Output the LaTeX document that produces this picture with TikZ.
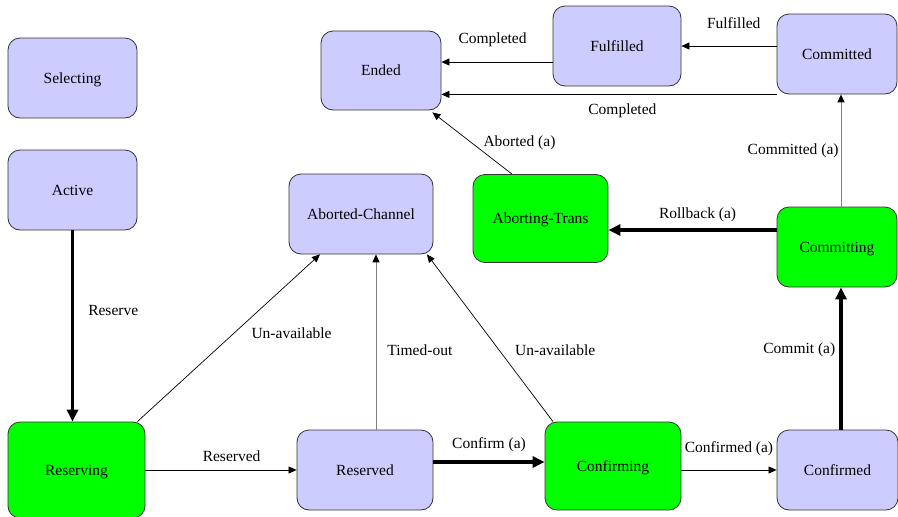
\documentclass[tikz,border=0pt]{standalone}
\usepackage{fontspec}
\setmainfont{Liberation Serif}
\usetikzlibrary{shapes,arrows.meta}

\begin{document}
\begin{tikzpicture}[x=1pt,y=-1pt,font=\fontsize{15.5}{18}\selectfont]
\tikzstyle{state}=[rectangle,rounded corners=12pt,draw=black!80,line width=0.8pt,minimum height=80pt,inner sep=0pt,text height=10.5pt,text depth=0.5pt]
\tikzstyle{idle}=[state,fill=blue!20]
\tikzstyle{busy}=[state,fill=green]
\tikzstyle{lbl}=[inner sep=2pt]
\tikzstyle{light}=[-{Triangle[length=8pt,width=7pt]},line width=0.7pt]
\tikzstyle{faint}=[-{Triangle[length=8pt,width=7pt,color=black]},line width=0.9pt,draw=gray]
\tikzstyle{heavy}=[-{Triangle[length=12pt,width=11pt]},line width=3.5pt]
\useasboundingbox (0,0) rectangle (898,517);
\node[idle,minimum width=129pt](Sel) at (72.5,78) {Selecting};
\node[idle,minimum width=129pt](Act) at (72.5,190) {Active};
\node[idle,minimum width=120pt,minimum height=79pt](End) at (381,70.5) {Ended};
\node[idle,minimum width=144pt](AbC) at (361,214) {Aborted-Channel};
\node[idle,minimum width=128pt](Ful) at (617,46) {Fulfilled};
\node[idle,minimum width=120pt](Cmd) at (837,54) {Committed};
\node[busy,minimum width=135pt,minimum height=88pt](AbT) at (540.5,218.5) {Aborting-Trans};
\node[busy,minimum width=120pt](Cmg) at (837,247) {Committing};
\node[busy,minimum width=137pt,minimum height=96pt](Rsg) at (76.5,470) {Reserving};
\node[idle,minimum width=136pt](Rsd) at (365,470) {Reserved};
\node[busy,minimum width=136pt,minimum height=88pt](Cfg) at (613,466) {Confirming};
\node[idle,minimum width=121pt](Cfd) at (837.5,470) {Confirmed};

\draw[heavy] (Act.south) -- (Act.south |- Rsg.north) node[lbl,pos=.42,right=12pt]{Reserve};
\draw[light] ([xshift=-8pt]Rsg.north east) -- ([xshift=-41pt]AbC.south) node[lbl,pos=.53,right=15pt]{Un-available};
\draw[faint] ([xshift=11pt]Rsd.north) -- ([xshift=11pt]Rsd.north |- AbC.south) node[lbl,pos=.455,right=9pt]{Timed-out};
\draw[light] ([xshift=-60pt]Cfg.north) -- ([xshift=66pt]AbC.south) node[lbl,pos=.43,right=14pt]{Un-available};
\draw[light] (Rsg.east) -- (Rsd.west) node[lbl,pos=.57,above=6pt]{Reserved};
\draw[heavy] ([yshift=8pt]Rsd.east) -- ([yshift=8pt]Rsd.east -| Cfg.west) node[lbl,pos=.5,above=6pt]{Confirm (a)};
\draw[light] (Cfg.east |- Cfd.west) -- (Cfd.west) node[lbl,pos=.5,above=12pt]{Confirmed (a)};
\draw[heavy] ([xshift=4pt]Cmg.south |- Cfd.north) -- ([xshift=4pt]Cmg.south) node[lbl,pos=.56,left=2pt]{Commit (a)};
\draw[faint] ([xshift=4pt]Cmg.north) -- ([xshift=4pt]Cmd.south) node[lbl,pos=.5,left=0pt]{Committed (a)};
\draw[heavy] ([yshift=17pt]Cmg.west) -- ([yshift=17pt]Cmg.west -| AbT.east) node[lbl,pos=.47,above=4pt]{Rollback (a)};
\draw[light] (Cmd.west |- Ful.east) -- (Ful.east) node[lbl,pos=.45,above=15pt]{Fulfilled};
\draw[light] ([yshift=-16pt]Ful.west) -- ([yshift=-16pt]Ful.west -| End.east) node[lbl,pos=.54,above=13pt]{Completed};
\draw[light] (Cmd.south west) -- (Cmd.south west -| End.east) node[lbl,pos=.46,below=7pt]{Completed};
\draw[light] ([xshift=-28.5pt]AbT.north) -- ([xshift=-9pt,yshift=-2pt]End.south east) node[lbl,pos=.5,right=9pt]{Aborted (a)};
\end{tikzpicture}
\end{document}
